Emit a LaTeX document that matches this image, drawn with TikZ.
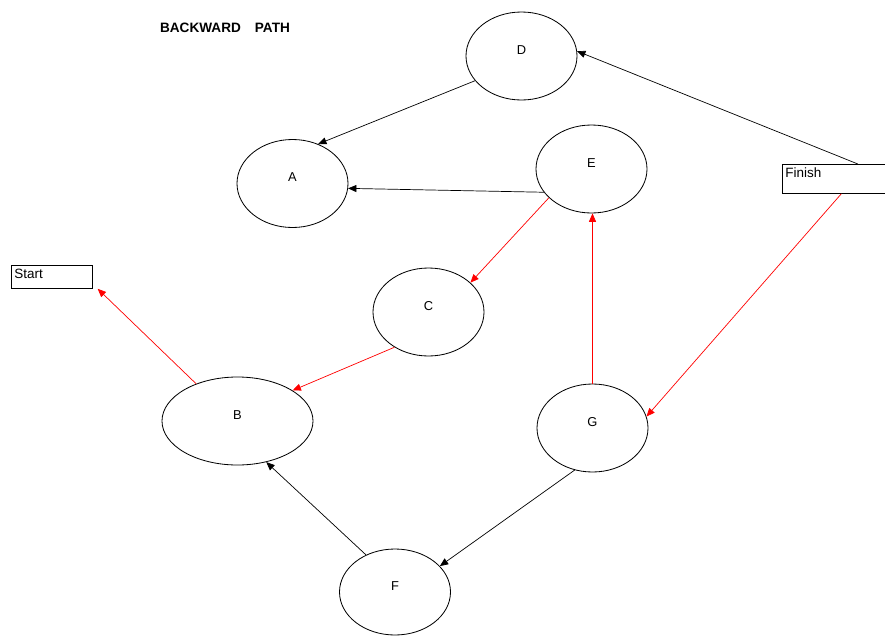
\documentclass[tikz,border=0pt]{standalone}
\usepackage{fontspec}
\setmainfont{Liberation Sans}
\usetikzlibrary{arrows.meta, shapes.geometric}

\begin{document}
\begin{tikzpicture}[
  x=0.03cm, y=-0.03cm,
  state/.style={draw, ellipse, line width=0.7pt, minimum width=3.33cm, minimum height=2.64cm, inner sep=0pt, font=\fontsize{11}{13}\selectfont, text height=8pt, text depth=11pt},
  tag/.style={draw, line width=0.7pt, anchor=north west, inner xsep=2.5pt, inner ysep=2pt, align=left, text height=9pt, font=\fontsize{11.5}{13}\selectfont},
  arr/.style={-{Triangle[length=2.5mm, width=2.1mm]}, line width=0.6pt},
]
  \useasboundingbox (0,0) rectangle (885,635);

  % Title
  \node[font=\bfseries\fontsize{11.6}{13}\selectfont] (title) at (225,28) {BACKWARD\hspace{0.42cm}PATH};

  % Activities
  \node[state] (D) at (521.5,56) {D};
  \node[state] (A) at (292.5,183.5) {A};
  \node[state] (E) at (591.5,169) {E};
  \node[state] (C) at (428.5,312) {C};
  \node[state, minimum width=4.53cm] (B) at (237.5,421) {B};
  \node[state] (G) at (592.5,428) {G};
  \node[state, minimum height=2.58cm] (F) at (395,592) {F};

  % Start / Finish
  \node[tag, text width=2.25cm, text depth=6.6pt] (Start) at (11,265) {Start};
  \node[tag, text width=3.36cm, text depth=11.7pt] (Finish) at (782,164) {Finish};

  % Arrows
  \draw[arr] (Finish.42) -- (D.5);
  \draw[arr] (D.208) -- (A.57);
  \draw[arr] (E.206) -- (A.-5);
  \draw[arr, red] (E.214) -- (C.35);
  \draw[arr, red] (C.226) -- (B.29);
  \draw[arr, red] (B.138) -- ([xshift=0.15cm]Start.south east);
  \draw[arr, red] (Finish.south) -- (G.12);
  \draw[arr, red] (G.north) -- (G.north |- E.south);
  \draw[arr] (G.247) -- (F.30);
  \draw[arr] (F.128) -- (B.-55);
\end{tikzpicture}
\end{document}
